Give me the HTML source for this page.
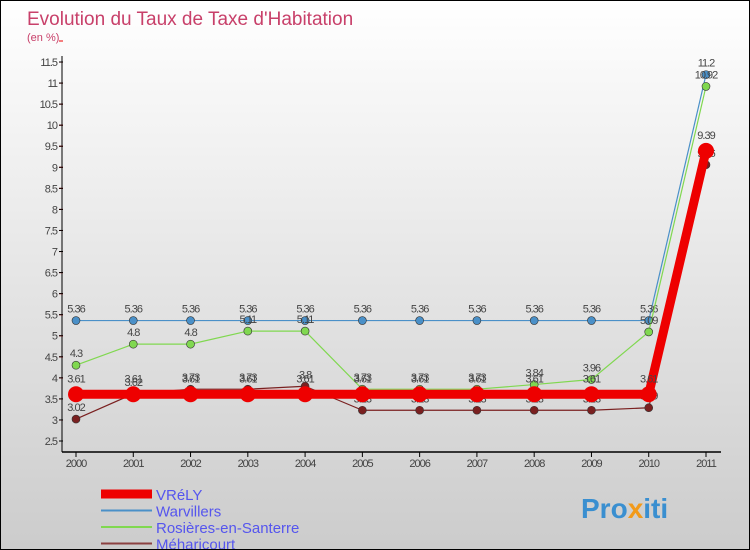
<!DOCTYPE html>
<html><head><meta charset="utf-8"><style>
body{margin:0}
#c{position:relative;width:748px;height:548px;border:1px solid #000;background:linear-gradient(#fff,#ccc);font-family:"Liberation Sans",sans-serif;overflow:hidden}
svg text{font-family:"Liberation Sans",sans-serif}
</style></head><body>
<div id="c">
<svg id="s" width="748" height="548">
<text x="26" y="24" font-size="19" fill="#c8406a">Evolution du Taux de Taxe d'Habitation</text>
<text x="26" y="40" font-size="11" fill="#c8406a">(en %)</text>
<text x="580" y="517" font-size="28" font-weight="bold" fill="#3a8fd0">Pro<tspan fill="#f29a1a">x</tspan>iti</text>
</svg>
</div>
<script>
const years=["2000","2001","2002","2003","2004","2005","2006","2007","2008","2009","2010","2011"];
const vrely=[3.61,3.61,3.61,3.61,3.61,3.61,3.61,3.61,3.61,3.61,3.61,9.39];
const warvillers=[5.36,5.36,5.36,5.36,5.36,5.36,5.36,5.36,5.36,5.36,5.36,11.2];
const rosieres=[4.3,4.8,4.8,5.11,5.11,3.73,3.73,3.73,3.84,3.96,5.09,10.92];
const meharicourt=[3.02,3.62,3.73,3.73,3.8,3.23,3.23,3.23,3.23,3.23,3.29,9.06];
const yTicks=[2.5,3,3.5,4,4.5,5,5.5,6,6.5,7,7.5,8,8.5,9,9.5,10,10.5,11,11.5];
const seriesNames=["VRéLY","Warvillers","Rosières-en-Santerre","Méharicourt"];
const NS="http://www.w3.org/2000/svg",s=document.getElementById('s');
const X=i=>75+i*(630/11), Y=v=>440-(v-2.5)*(379/9);
function el(t,a,p){const e=document.createElementNS(NS,t);for(const k in a)e.setAttribute(k,a[k]);(p||s).appendChild(e);return e;}
let ax=el('line',{x1:61,y1:55,x2:61,y2:451,stroke:'#000'});


let bx=el('line',{x1:61,y1:451,x2:720,y2:451,stroke:'#000','stroke-width':1.5});


yTicks.forEach(v=>{const y=Y(v);el('line',{x1:58,x2:62,y1:y,y2:y,stroke:'#000'});el('line',{x1:58,x2:62,y1:y-21,y2:y-21,stroke:'#e00'});
const t=el('text',{x:56,y:y+4,'font-size':11,fill:'#444','text-anchor':'end','letter-spacing':'-1'});t.textContent=String(v);

});
years.forEach((yr,i)=>{el('line',{x1:X(i),x2:X(i),y1:451,y2:456,stroke:'#000'});
const t=el('text',{x:X(i),y:466,'font-size':11,fill:'#444','text-anchor':'middle','letter-spacing':'-1'});t.textContent=yr;

});
function series(d,color,w,r,name,lblOff){
const g=el('g',{});
el('polyline',{points:d.map((v,i)=>X(i)+','+Y(v)).join(' '),fill:'none',stroke:color,'stroke-width':w,'stroke-linejoin':'round'},g);
d.forEach((v,i)=>{const c=el('circle',{cx:X(i),cy:Y(v),r:r,fill:color,stroke:'#333','stroke-width':r>5?0:0.6},g);


const t=el('text',{x:X(i),y:Y(v)-lblOff,'font-size':11,fill:'#444','text-anchor':'middle','letter-spacing':'-1'},g);t.textContent=String(v);});}
series(meharicourt,'#7a2020',1.2,4,'meharicourt',8);
series(warvillers,'#4a90c8',1.2,4,'warvillers',8);
series(rosieres,'#80d850',1.2,4,'rosieres',8);
series(vrely,'#ee0000',9,8,'vrely',12);
const lc=['#ee0000','#4a90c8','#80d850','#8b4040'],lw=[9,2,2,2];
seriesNames.forEach((n,i)=>{const y=493+i*16.5;const g=el('g',{});


el('line',{x1:100,x2:151,y1:y,y2:y,stroke:lc[i],'stroke-width':lw[i]},g);
const t=el('text',{x:155,y:y+6,'font-size':15,fill:'#5555ee'},g);t.textContent=n;});
</script>
</body></html>
